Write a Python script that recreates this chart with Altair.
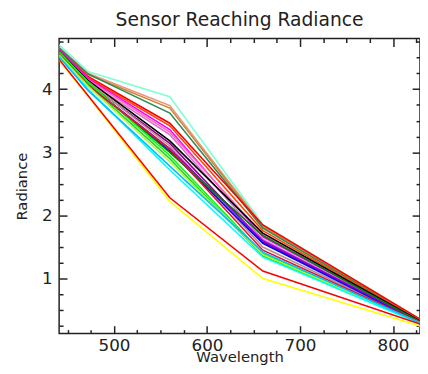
import altair as alt
import pandas as pd

# Band centres (nm) and the radiance at those bands
wavelengths = [441, 472, 560, 660, 829]

s01_aquamarine = [4.70, 4.28, 3.88, 1.86, 0.36]
s02_salmon = [4.66, 4.25, 3.74, 1.84, 0.35]
s03_peru = [4.64, 4.23, 3.70, 1.82, 0.35]
s04_seagreen = [4.65, 4.24, 3.62, 1.80, 0.34]
s05_red = [4.62, 4.20, 3.46, 1.85, 0.36]
s06_orangered = [4.60, 4.18, 3.42, 1.76, 0.34]
s07_magenta = [4.62, 4.17, 3.36, 1.66, 0.33]
s08_hotpink = [4.60, 4.15, 3.32, 1.70, 0.33]
s09_orchid = [4.58, 4.12, 3.28, 1.62, 0.32]
s10_black = [4.60, 4.14, 3.18, 1.72, 0.33]
s11_darkmagenta = [4.57, 4.10, 3.14, 1.58, 0.32]
s12_rosybrown = [4.58, 4.12, 3.10, 1.50, 0.31]
s13_blue = [4.56, 4.08, 3.02, 1.56, 0.31]
s14_darkviolet = [4.55, 4.07, 3.06, 1.60, 0.32]
s15_green = [4.58, 4.10, 3.00, 1.68, 0.32]
s16_lime = [4.59, 4.11, 2.95, 1.40, 0.30]
s17_limegreen = [4.56, 4.07, 2.90, 1.36, 0.30]
s18_crimson = [4.55, 4.06, 3.05, 1.45, 0.31]
s19_greenyellow = [4.54, 4.05, 2.85, 1.38, 0.30]
s20_cyan = [4.52, 4.00, 2.72, 1.34, 0.29]
s21_skyblue = [4.51, 3.98, 2.78, 1.42, 0.30]
s22_yellow = [4.46, 3.89, 2.22, 1.00, 0.25]
s23_red = [4.47, 3.90, 2.28, 1.12, 0.28]

series_names = ["s01", "s02", "s03", "s04", "s05", "s06", "s07", "s08", "s09", "s10",
                "s11", "s12", "s13", "s14", "s15", "s16", "s17", "s18", "s19", "s20",
                "s21", "s22", "s23"]
series_values = [s01_aquamarine, s02_salmon, s03_peru, s04_seagreen, s05_red,
                 s06_orangered, s07_magenta, s08_hotpink, s09_orchid, s10_black,
                 s11_darkmagenta, s12_rosybrown, s13_blue, s14_darkviolet, s15_green,
                 s16_lime, s17_limegreen, s18_crimson, s19_greenyellow, s20_cyan,
                 s21_skyblue, s22_yellow, s23_red]
series_colors = ["#7fffd4", "#e9967a", "#cd853f", "#2e8b57", "#ff0000",
                 "#ff4500", "#ff00ff", "#ff69b4", "#da70d6", "#000000",
                 "#8b008b", "#bc8f8f", "#0000ff", "#9400d3", "#008000",
                 "#00ff00", "#32cd32", "#dc143c", "#adff2f", "#00ffff",
                 "#00bfff", "#ffff00", "#ff0000"]

x_major = [500, 600, 700, 800]
x_minor = [450, 475, 500, 525, 550, 575, 600, 625, 650, 675, 700, 725, 750, 775, 800, 825]
y_major = [1, 2, 3, 4]
y_minor = [0.25, 0.5, 0.75, 1, 1.25, 1.5, 1.75, 2, 2.25, 2.5, 2.75, 3, 3.25, 3.5,
           3.75, 4, 4.25, 4.5, 4.75]

rows = []
for name, vals in zip(series_names, series_values):
    for w, v in zip(wavelengths, vals):
        rows.append({"series": name, "wavelength": w, "radiance": v})
df = pd.DataFrame(rows)

W, H = 367, 300
FONT = "DejaVu Sans"
INK = "#222222"

x_scale = alt.Scale(domain=[441, 829], nice=False, zero=False)
y_scale = alt.Scale(domain=[0.13, 4.8], nice=False, zero=False)

x_tick_size = {"condition": {"test": "datum.value % 100 === 0", "value": 8}, "value": 4}
y_tick_size = {"condition": {"test": "datum.value % 1 === 0", "value": 8}, "value": 4}

lines = alt.Chart(df).mark_line(strokeWidth=1.6, clip=True).encode(
    x=alt.X("wavelength:Q", scale=x_scale,
            axis=alt.Axis(orient="bottom", values=x_major, ticks=False, domain=False,
                          grid=False, title="Wavelength", labelFont=FONT, labelFontSize=17,
                          labelColor=INK, labelPadding=4, titleFont=FONT, titleFontSize=15,
                          titleFontWeight="normal", titleColor=INK, titlePadding=-4)),
    y=alt.Y("radiance:Q", scale=y_scale,
            axis=alt.Axis(orient="left", values=y_major, ticks=False, domain=False,
                          grid=False, title="Radiance", labelFont=FONT, labelFontSize=17,
                          labelColor=INK, labelPadding=7, titleFont=FONT, titleFontSize=15,
                          titleFontWeight="normal", titleColor=INK, titlePadding=12)),
    color=alt.Color("series:N", scale=alt.Scale(domain=series_names, range=series_colors),
                    legend=None),
)

# inward ticks on bottom edge and left edge
ticks_bl = alt.Chart(df).mark_line(opacity=0).encode(
    x=alt.X("wavelength:Q", scale=x_scale,
            axis=alt.Axis(orient="top", offset=-H, values=x_minor, labels=False,
                          domain=False, grid=False, title=None, tickColor=INK,
                          tickWidth=1.5, tickSize=x_tick_size)),
    y=alt.Y("radiance:Q", scale=y_scale,
            axis=alt.Axis(orient="right", offset=-W, values=y_minor, labels=False,
                          domain=False, grid=False, title=None, tickColor=INK,
                          tickWidth=1.5, tickSize=y_tick_size)),
)

# inward ticks on top edge and right edge
ticks_tr = alt.Chart(df).mark_line(opacity=0).encode(
    x=alt.X("wavelength:Q", scale=x_scale,
            axis=alt.Axis(orient="bottom", offset=-H, values=x_minor, labels=False,
                          domain=False, grid=False, title=None, tickColor=INK,
                          tickWidth=1.5, tickSize=x_tick_size)),
    y=alt.Y("radiance:Q", scale=y_scale,
            axis=alt.Axis(orient="left", offset=-W, values=y_minor, labels=False,
                          domain=False, grid=False, title=None, tickColor=INK,
                          tickWidth=1.5, tickSize=y_tick_size)),
)

chart = alt.layer(ticks_bl, ticks_tr, lines).resolve_scale(
    x="independent", y="independent"
).properties(
    width=W, height=H,
    autosize=alt.AutoSizeParams(type="none"),
    padding={"left": 52, "top": 28, "right": 0, "bottom": 38},
    title=alt.Title("Sensor Reaching Radiance", font=FONT, fontSize=19,
                    fontWeight="normal", color=INK, anchor="middle", offset=8),
).configure_view(stroke=INK, strokeWidth=1.5)

chart.save("out.html", embed_options={"renderer": "svg", "actions": False})
